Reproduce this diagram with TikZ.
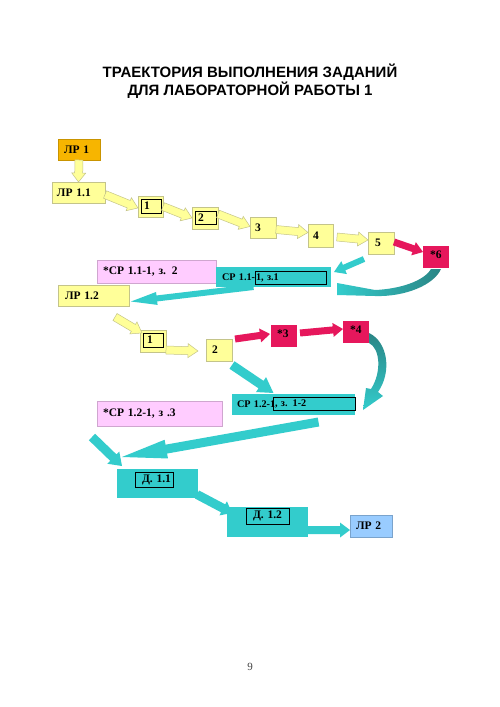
\documentclass[tikz,border=0pt]{standalone}
\usepackage{fontspec}
\setmainfont{Liberation Serif}
\newfontfamily\titlefont{Liberation Sans}
\usetikzlibrary{calc}
\definecolor{yfill}{HTML}{FFFF99}
\definecolor{ydraw}{HTML}{C4C48A}
\definecolor{ofill}{HTML}{F7B500}
\definecolor{odraw}{HTML}{C99400}
\definecolor{tealc}{HTML}{33CCCC}
\definecolor{teald}{HTML}{2A8585}
\definecolor{crim}{HTML}{E6175C}
\definecolor{pinkf}{HTML}{FFCCFF}
\definecolor{pinkd}{HTML}{CFA6CF}
\definecolor{lbfill}{HTML}{99CCFF}
\definecolor{lbdraw}{HTML}{7AA3CC}
\tikzset{
 bx/.style={font=\bfseries\fontsize{11.5}{13}\selectfont, inner sep=0pt, outer sep=0pt},
 smallbx/.style={font=\bfseries\fontsize{10.2}{12}\selectfont},
 ybox/.style={bx, fill=yfill, draw=ydraw, line width=0.5pt},
 obox/.style={bx, fill=ofill, draw=odraw, line width=0.5pt},
 tbox/.style={bx, fill=tealc},
 rbox/.style={bx, fill=crim},
 pbox/.style={bx, fill=pinkf, draw=pinkd, line width=0.5pt},
 lbbox/.style={bx, fill=lbfill, draw=lbdraw, line width=0.5pt},
 ibox/.style={bx, draw=black, line width=0.8pt},
 yarr/.style={fill=yfill, draw=ydraw, line width=0.5pt},
 tarr/.style={fill=tealc, draw=none},
 rarr/.style={fill=crim, draw=none},
}
% name, style, x1, y1, x2, y2, left pad, text
\newcommand\boxat[8]{%
 \pgfmathsetmacro\bw{#5-#3}\pgfmathsetmacro\bh{#6-#4}%
 \node[#2, anchor=north west, minimum width=\bw pt, minimum height=\bh pt,
   text width=\bw pt, align=left] (#1) at (#3,#4) {\hspace*{#7pt}#8};}
% style, from, to, shaft half, head half, head length
\newcommand\barrow[6]{%
 \path (#2); \pgfgetlastxy{\bax}{\bay}%
 \path (#3); \pgfgetlastxy{\bbx}{\bby}%
 \pgfmathsetmacro\baang{atan2((\bby)-(\bay),(\bbx)-(\bax))}%
 \pgfmathsetmacro\balen{veclen((\bbx)-(\bax),(\bby)-(\bay))}%
 \pgfmathsetmacro\baneck{\balen-#6}%
 \filldraw[#1, shift={(\bax,\bay)}, rotate=\baang]
   (0pt,#4pt) -- (\baneck pt,#4pt) -- (\baneck pt,#5pt) -- (\balen pt,0pt)
   -- (\baneck pt,-#5pt) -- (\baneck pt,-#4pt) -- (0pt,-#4pt) -- cycle;}
\begin{document}
\begin{tikzpicture}[x=1pt,y=-1pt]
\useasboundingbox[fill=white] (0,0) rectangle (500,707);
\node[font=\titlefont\bfseries\fontsize{15}{16.5}\selectfont, align=center] (title) at (250,81)
  {ТРАЕКТОРИЯ ВЫПОЛНЕНИЯ ЗАДАНИЙ\\ДЛЯ ЛАБОРАТОРНОЙ РАБОТЫ 1};
% boxes, first row
\boxat{lr1}{obox}{58}{139}{100}{160}{6}{ЛР 1}
\boxat{lr11}{ybox}{52}{182}{105}{203}{5}{ЛР 1.1}
\boxat{b1a}{ybox}{138}{196}{163}{217}{0}{}
\boxat{b1ai}{ibox}{141}{199}{161}{213}{3}{1}
\boxat{b2a}{ybox}{192}{207}{218}{229}{0}{}
\boxat{b2ai}{ibox}{195}{211}{216}{224}{3}{2}
\boxat{b3}{ybox}{250}{217}{276}{238}{5}{3}
\boxat{b4}{ybox}{308}{224}{333}{247}{5}{4}
\boxat{b5}{ybox}{368}{232}{394}{254}{7}{5}
\boxat{s6}{rbox}{423}{246}{449}{268}{7}{\raisebox{4pt}{*6}}
\boxat{pink1}{pbox}{97}{260}{216}{283}{6}{*СР 1.1-1, з. 2}
\boxat{cp11}{tbox,smallbx}{216}{267}{331}{287}{6}{СР 1.1-}
\boxat{cp11i}{ibox,smallbx}{255}{271}{326}{284}{1}{1, з.1}
\boxat{lr12}{ybox}{58}{285}{129}{306}{7}{ЛР 1.2}
% second row
\boxat{b1b}{ybox}{140}{330}{166}{352}{0}{}
\boxat{b1bi}{ibox}{143}{333}{163}{347}{4}{1}
\boxat{b2b}{ybox}{206}{339}{232}{361}{6}{2}
\boxat{s3}{rbox}{271}{325}{297}{347}{6}{\raisebox{4pt}{*3}}
\boxat{s4}{rbox}{343}{321}{369}{343}{7}{\raisebox{4pt}{*4}}
\boxat{cp12}{tbox,smallbx}{232}{394}{355}{415}{5}{СР 1.2-1}
\boxat{cp12i}{ibox,smallbx}{273}{397}{355}{410}{2}{, з. 1-2}
\boxat{pink2}{pbox}{97}{401}{222}{426}{6}{*СР 1.2-1, з .3}
\boxat{d11}{tbox}{117}{469}{198}{498}{0}{}
\boxat{d11i}{ibox}{135}{472}{173}{487}{7}{Д. 1.1}
\boxat{d12}{tbox}{227}{507}{308}{537}{0}{}
\boxat{d12i}{ibox}{246}{508}{289}{524}{7}{Д. 1.2}
\boxat{lr2}{lbbox}{350}{515}{392}{537}{6}{ЛР 2}
% yellow arrows
\barrow{yarr}{lr1.south}{lr11.north}{4}{7}{9}
\barrow{yarr}{$(lr11.east)+(0,2)$}{$(b1a.west)+(0,1.5)$}{4}{7}{10}
\barrow{yarr}{b1a.east}{b2a.west}{4}{7}{10}
\barrow{yarr}{$(b2a.east)+(0,-4)$}{$(b3.west)+(0,-1)$}{4}{7}{10}
\barrow{yarr}{$(b3.east)+(0,2)$}{$(b4.west)+(0,-3)$}{4}{7}{10}
\barrow{yarr}{$(b4.east)+(4,1.5)$}{$(b5.west)+(0,-3)$}{4}{7}{10}
\barrow{yarr}{$(lr12.south)+(21.5,11)$}{$(b1b.north west)+(2,3)$}{4}{7}{10}
\barrow{yarr}{$(b1b.south east)+(0,-2)$}{$(b2b.west)+(-8,1)$}{4}{7}{10}
% crimson arrows
\barrow{rarr}{$(b5.east)+(0,-1)$}{$(s6.west)+(0,-5)$}{3.5}{7}{10}
\barrow{rarr}{$(b2b.north east)+(3,0)$}{$(s3.west)+(-1,-2)$}{3.5}{7}{10}
\barrow{rarr}{$(s3.east)+(3,-3)$}{$(s4.west)+(0,-3)$}{3.5}{7}{10}
% teal arrows
\barrow{tarr}{$(b5.south)+(-17,5)$}{$(cp11.east)+(3,-5)$}{3}{7}{11}
\barrow{tarr}{$(cp11.south)+(-20,0)$}{$(lr12.east)+(2,6)$}{3}{6.5}{26}
\barrow{tarr}{$(b2b.south east)+(0,4)$}{$(cp12.north)+(-20,-1)$}{4.5}{9}{15}
\barrow{tarr}{$(cp12.south)+(25,7)$}{$(d11.north west)+(5,-12)$}{4.5}{9.5}{45}
\barrow{tarr}{$(pink2.south west)+(-5,11)$}{$(d11.north west)+(5,-3)$}{4.5}{8.5}{12}
\barrow{tarr}{$(d11.east)+(-1,11)$}{$(d12.west)+(5,-9)$}{4.5}{8}{10}
\barrow{tarr}{$(d12.east)+(0,8)$}{$(lr2.west)+(0,4)$}{4}{7.5}{10}
% curved arrows
\shade[left color=tealc, right color=teald]
  (337,283) -- (375,290) .. controls (400,289) and (424,281) .. (431,269)
  -- (441,269) .. controls (434,285) and (405,297) .. (375,296) -- (337,295) -- cycle;
\shade[top color=teald, bottom color=tealc]
  (369,333) .. controls (388,342) and (392,372) .. (378,392) -- (383,396) -- (363,410)
  -- (366,388) -- (371,389) .. controls (382,372) and (380,348) .. (369,343) -- cycle;
\node[font=\fontsize{11}{12}\selectfont, text=black!75] (pg) at (250,667) {9};
\end{tikzpicture}
\end{document}
